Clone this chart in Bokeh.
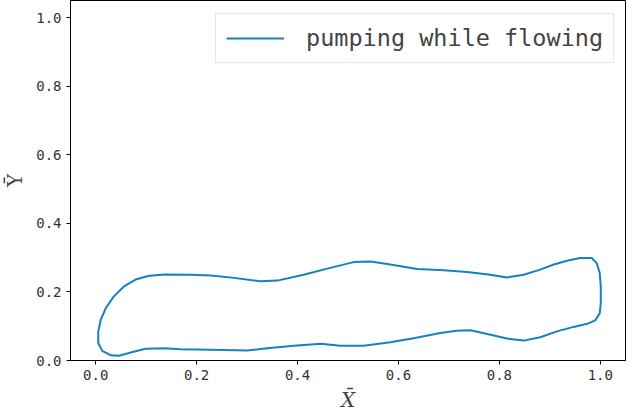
from bokeh.plotting import figure
from bokeh.models import Range1d, FixedTicker, Legend, LegendItem, NumeralTickFormatter
from bokeh.embed import file_html
from bokeh.resources import INLINE

# Closed loop: left edge -> top boundary -> right edge -> bottom boundary -> back
loop_x = [0.005, 0.010, 0.020, 0.036, 0.056, 0.079, 0.106, 0.137, 0.188, 0.228,
          0.274, 0.327, 0.360, 0.412, 0.459, 0.511, 0.545, 0.584, 0.637, 0.690,
          0.736, 0.782, 0.815, 0.848, 0.881, 0.908, 0.934, 0.960, 0.983, 0.993,
          0.999, 1.001, 1.001, 0.999, 0.990, 0.974, 0.947, 0.914, 0.881, 0.848,
          0.815, 0.776, 0.743, 0.715, 0.683, 0.630, 0.584, 0.531, 0.485, 0.446,
          0.393, 0.340, 0.300, 0.228, 0.168, 0.137, 0.099, 0.073, 0.046, 0.030,
          0.013, 0.005, 0.005]
loop_y = [0.085, 0.119, 0.153, 0.187, 0.216, 0.236, 0.247, 0.251, 0.250, 0.248,
          0.241, 0.231, 0.233, 0.250, 0.268, 0.287, 0.289, 0.280, 0.267, 0.263,
          0.258, 0.250, 0.242, 0.250, 0.265, 0.280, 0.291, 0.299, 0.299, 0.284,
          0.255, 0.216, 0.168, 0.138, 0.117, 0.107, 0.098, 0.085, 0.068, 0.058,
          0.064, 0.077, 0.088, 0.087, 0.080, 0.065, 0.053, 0.043, 0.043, 0.049,
          0.043, 0.036, 0.029, 0.031, 0.033, 0.036, 0.034, 0.025, 0.014, 0.015,
          0.028, 0.051, 0.085]
series_label = "pumping while flowing"
x_ticks = [0.0, 0.2, 0.4, 0.6, 0.8, 1.0]
y_ticks = [0.0, 0.2, 0.4, 0.6, 0.8, 1.0]
x_title = "X\u0304"
y_title = "Y\u0304"

LINE = "#1780bd"
MONO = "DejaVu Sans Mono"

p = figure(width=626, height=414, output_backend="svg", toolbar_location=None,
           x_range=Range1d(-0.05, 1.05), y_range=Range1d(0, 1.05),
           min_border_left=70, min_border_right=1, min_border_top=0,
           min_border_bottom=53)
p.grid.visible = False
p.outline_line_color = "black"
p.outline_line_width = 1
p.background_fill_color = "white"
p.border_fill_color = "white"

r = p.line(loop_x, loop_y, line_color=LINE, line_width=2, line_join="round")

for ax, ticks in ((p.xaxis[0], x_ticks), (p.yaxis[0], y_ticks)):
    ax.ticker = FixedTicker(ticks=ticks)
    ax.formatter = NumeralTickFormatter(format="0.0")
    ax.minor_tick_line_color = None
    ax.major_tick_in = 0
    ax.major_tick_out = 4
    ax.axis_line_color = "black"
    ax.major_tick_line_color = "black"
    ax.major_label_text_font = MONO
    ax.major_label_text_font_size = "14px"
    ax.major_label_text_color = "#333333"
    ax.major_label_standoff = 5

p.xaxis.axis_label = x_title
p.xaxis.axis_label_text_font = "DejaVu Serif"
p.xaxis.axis_label_text_font_style = "italic"
p.xaxis.axis_label_text_font_size = "20px"
p.xaxis.axis_label_standoff = 5
p.yaxis.axis_label = y_title
p.yaxis.axis_label_text_font = "DejaVu Serif"
p.yaxis.axis_label_text_font_style = "normal"
p.yaxis.axis_label_text_font_size = "20px"
p.yaxis.axis_label_standoff = 6

legend = Legend(items=[LegendItem(label=series_label, renderers=[r])],
                location=(145, 297), margin=0, padding=10,
                glyph_width=58, label_standoff=22,
                label_text_font=MONO, label_text_font_size="23.5px",
                border_line_color="#cccccc", border_line_width=1,
                background_fill_alpha=0.8)
p.add_layout(legend)

open("out.html", "w").write(file_html(p, INLINE))
